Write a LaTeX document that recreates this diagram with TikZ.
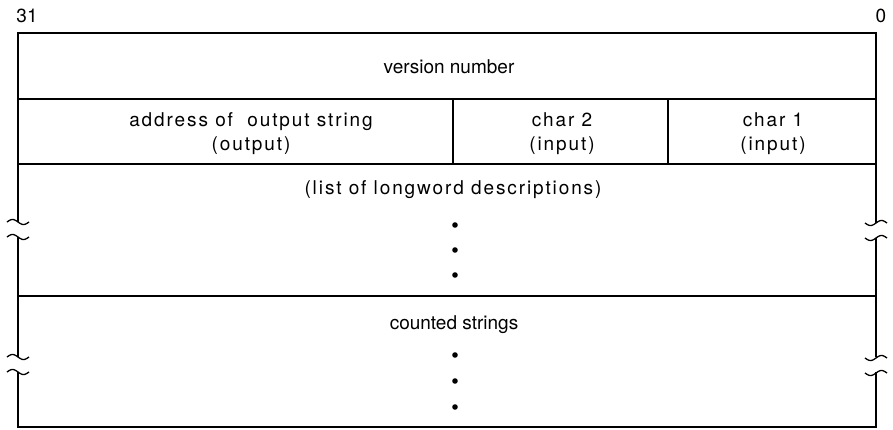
\documentclass[tikz,border=0pt]{standalone}
\usepackage{fontspec}
\setmainfont{TeX Gyre Heros}
\newfontfamily\widesf[LetterSpace=10]{TeX Gyre Heros}
\begin{document}
\begin{tikzpicture}[x=1pt,y=-1pt,line width=1.6pt,
    lbl/.style={font=\fontsize{19}{24}\selectfont,align=center,inner sep=0pt},
    wlbl/.style={lbl,font=\fontsize{19}{24}\selectfont\widesf}]
  \useasboundingbox (0,0) rectangle (893,430);
  % outer frame, broken on both sides
  \draw (18,222) -- (18,33) -- (876,33) -- (876,223);
  \draw (18,237) -- (18,357);
  \draw (876,238) -- (876,357);
  \draw (18,372) -- (18,427) -- (876,427) -- (876,372);
  % rows and fields
  \draw (18,99) -- (876,99);
  \draw (18,164) -- (876,164);
  \draw (18,296) -- (876,296);
  \draw (453,99) -- (453,164);
  \draw (668,99) -- (668,164);
  % break marks
  \foreach \b in {222,237,357,372} {
    \draw[line width=1.3pt,samples=30,domain=-11:11,variable=\t] plot ({18+\t},{\b+2.5*sin(16.4*\t)});
    \draw[line width=1.3pt,samples=30,domain=-11:11,variable=\t] plot ({876+\t},{\b+1-2.5*sin(16.4*\t)});
  }
  \node[lbl] (hi) at (27,16) {31};
  \node[lbl] (lo) at (881,16) {0};
  \node[lbl] (ver) at (449,67) {version number};
  \node[wlbl] (addr) at (251,134) {address of \ output string\\(output)};
  \node[wlbl] (ctwo) at (562,134) {char 2\\(input)};
  \node[wlbl] (cone) at (773,134) {char 1\\(input)};
  \node[wlbl] (list) at (453,190) {(list of longword descriptions)};
  \node[lbl] (cnt) at (454,325) {counted strings};
  \foreach \d in {225,250,275,355,381,407}
    \fill (455,\d) circle (2.8pt);
\end{tikzpicture}
\end{document}
